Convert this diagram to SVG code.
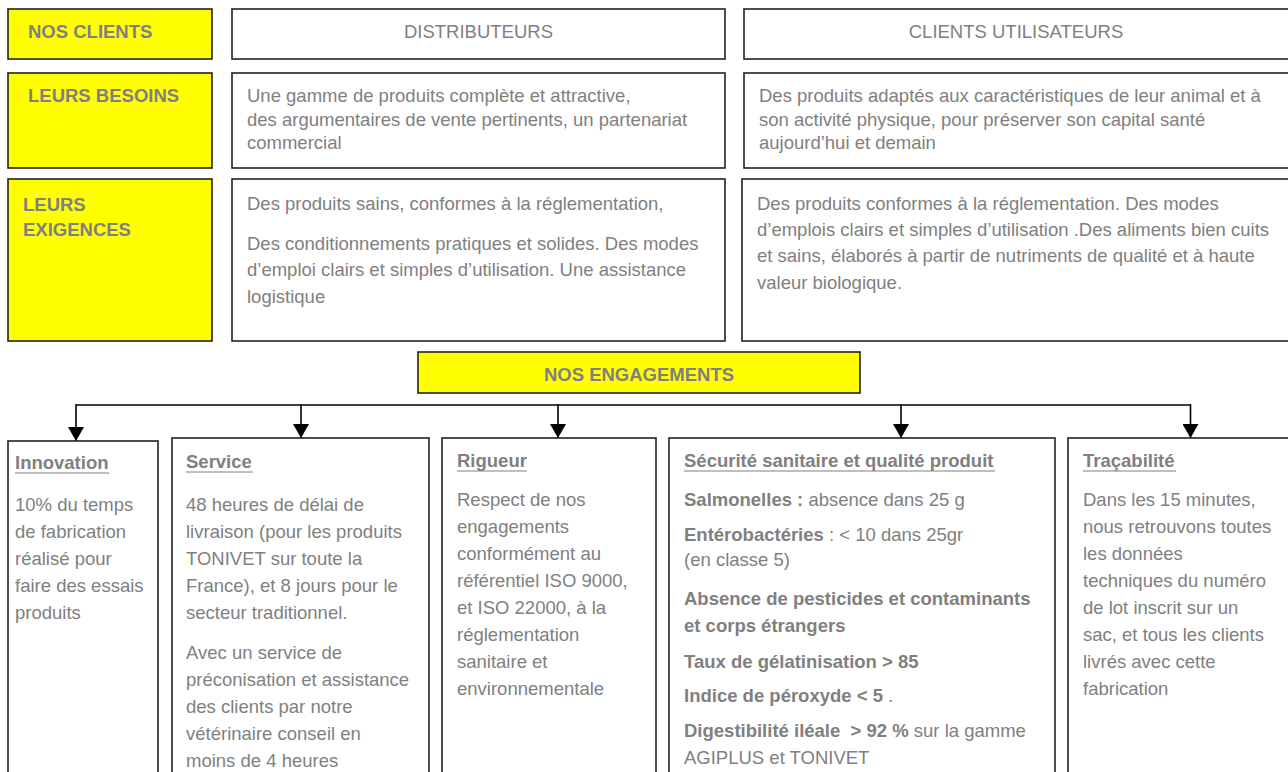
<svg xmlns="http://www.w3.org/2000/svg" width="1288" height="772" viewBox="0 0 1288 772">
<style>
.box{fill:#fff;stroke:#222;stroke-width:1.6}
.ybox{fill:#ffff00;stroke:#222;stroke-width:1.6}
text{font-family:"Liberation Sans",Arial,sans-serif;font-size:18.5px;fill:#808080}
.b{font-weight:bold}
.u{stroke:#808080;stroke-width:1.2}
.conn{stroke:#000;stroke-width:1.6;fill:none}
</style>
<defs>
<marker id="arr" markerUnits="userSpaceOnUse" markerWidth="16" markerHeight="14" viewBox="0 0 16 14" refX="8" refY="14" orient="0">
<path d="M0,0 L16,0 L8,14 Z" fill="#000"/>
</marker>
</defs>

<g id="nos-clients"><rect class="ybox" x="8" y="9" width="204" height="50"/><text class="b" x="28" y="37.5">NOS CLIENTS</text></g>
<g id="distributeurs"><rect class="box" x="232" y="9" width="493" height="50"/><text x="478.5" y="37.5" text-anchor="middle">DISTRIBUTEURS</text></g>
<g id="clients-utilisateurs"><rect class="box" x="744" y="9" width="548" height="50"/><text x="1016" y="37.5" text-anchor="middle">CLIENTS UTILISATEURS</text></g>

<g id="leurs-besoins"><rect class="ybox" x="8" y="73" width="204" height="95"/><text class="b" x="28" y="102">LEURS BESOINS</text></g>
<g id="besoins-distributeurs"><rect class="box" x="232" y="73" width="493" height="95"/>
<text x="247" y="101.5">Une gamme de produits complète et attractive,</text>
<text x="247" y="125.5">des argumentaires de vente pertinents, un partenariat</text>
<text x="247" y="149">commercial</text></g>
<g id="besoins-clients"><rect class="box" x="744" y="73" width="548" height="95"/>
<text x="759" y="101.5">Des produits adaptés aux caractéristiques de leur animal et à</text>
<text x="759" y="125.5">son activité physique, pour préserver son capital santé</text>
<text x="759" y="149">aujourd’hui et demain</text></g>

<g id="leurs-exigences"><rect class="ybox" x="8" y="179" width="204" height="162"/><text class="b" x="23" y="211">LEURS</text><text class="b" x="23" y="236">EXIGENCES</text></g>
<g id="exigences-distributeurs"><rect class="box" x="232" y="179" width="493" height="162"/>
<text x="247" y="210">Des produits sains, conformes à la réglementation,</text>
<text x="247" y="250">Des conditionnements pratiques et solides. Des modes</text>
<text x="247" y="276">d’emploi clairs et simples d’utilisation. Une assistance</text>
<text x="247" y="303">logistique</text></g>
<g id="exigences-clients"><rect class="box" x="742" y="179" width="550" height="162"/>
<text x="757" y="210">Des produits conformes à la réglementation. Des modes</text>
<text x="757" y="236">d’emplois clairs et simples d’utilisation .Des aliments bien cuits</text>
<text x="757" y="262">et sains, élaborés à partir de nutriments de qualité et à haute</text>
<text x="757" y="289">valeur biologique.</text></g>

<g id="nos-engagements"><rect class="ybox" x="418" y="352" width="442" height="41"/><text class="b" x="639" y="381" text-anchor="middle">NOS ENGAGEMENTS</text></g>

<g id="connectors">
<line class="conn" x1="76" y1="405" x2="1191" y2="405"/>
<line class="conn" x1="76" y1="404.2" x2="76" y2="441" marker-end="url(#arr)"/>
<line class="conn" x1="301" y1="404.2" x2="301" y2="438" marker-end="url(#arr)"/>
<line class="conn" x1="558" y1="404.2" x2="558" y2="438" marker-end="url(#arr)"/>
<line class="conn" x1="901" y1="404.2" x2="901" y2="438" marker-end="url(#arr)"/>
<line class="conn" x1="1190.5" y1="404.2" x2="1190.5" y2="438" marker-end="url(#arr)"/>
</g>

<g id="innovation"><rect class="box" x="8" y="441" width="150" height="340"/>
<text class="b" x="15" y="469">Innovation</text><line class="u" x1="15" y1="473" x2="109" y2="473"/>
<text x="15" y="511">10% du temps</text>
<text x="15" y="538">de fabrication</text>
<text x="15" y="565">réalisé pour</text>
<text x="15" y="592">faire des essais</text>
<text x="15" y="619">produits</text></g>

<g id="service"><rect class="box" x="172" y="438" width="257" height="340"/>
<text class="b" x="186" y="468">Service</text><line class="u" x1="186" y1="472" x2="253" y2="472"/>
<text x="186" y="511">48 heures de délai de</text>
<text x="186" y="538">livraison (pour les produits</text>
<text x="186" y="565">TONIVET sur toute la</text>
<text x="186" y="592">France), et 8 jours pour le</text>
<text x="186" y="619">secteur traditionnel.</text>
<text x="186" y="659">Avec un service de</text>
<text x="186" y="686">préconisation et assistance</text>
<text x="186" y="713">des clients par notre</text>
<text x="186" y="740">vétérinaire conseil en</text>
<text x="186" y="767">moins de 4 heures</text></g>

<g id="rigueur"><rect class="box" x="442" y="438" width="214" height="340"/>
<text class="b" x="457" y="467">Rigueur</text><line class="u" x1="457" y1="471" x2="527" y2="471"/>
<text x="457" y="506">Respect de nos</text>
<text x="457" y="533">engagements</text>
<text x="457" y="560">conformément au</text>
<text x="457" y="587">référentiel ISO 9000,</text>
<text x="457" y="614">et ISO 22000, à la</text>
<text x="457" y="641">réglementation</text>
<text x="457" y="668">sanitaire et</text>
<text x="457" y="695">environnementale</text></g>

<g id="securite"><rect class="box" x="669" y="438" width="386" height="340"/>
<text class="b" x="684" y="467">Sécurité sanitaire et qualité produit</text><line class="u" x1="684" y1="471" x2="995" y2="471"/>
<text x="684" y="506"><tspan class="b">Salmonelles :</tspan> absence dans 25 g</text>
<text x="684" y="541"><tspan class="b">Entérobactéries</tspan> : &lt; 10 dans 25gr</text>
<text x="684" y="566">(en classe 5)</text>
<text class="b" x="684" y="605">Absence de pesticides et contaminants</text>
<text class="b" x="684" y="632">et corps étrangers</text>
<text class="b" x="684" y="668">Taux de gélatinisation &gt; 85</text>
<text x="684" y="702"><tspan class="b">Indice de péroxyde &lt; 5</tspan> .</text>
<text x="684" y="737"><tspan class="b">Digestibilité iléale&#160; &gt; 92 %</tspan> sur la gamme</text>
<text x="684" y="764">AGIPLUS et TONIVET</text></g>

<g id="tracabilite"><rect class="box" x="1068" y="438" width="230" height="340"/>
<text class="b" x="1083" y="467">Traçabilité</text><line class="u" x1="1083" y1="471" x2="1176" y2="471"/>
<text x="1083" y="506">Dans les 15 minutes,</text>
<text x="1083" y="533">nous retrouvons toutes</text>
<text x="1083" y="560">les données</text>
<text x="1083" y="587">techniques du numéro</text>
<text x="1083" y="614">de lot inscrit sur un</text>
<text x="1083" y="641">sac, et tous les clients</text>
<text x="1083" y="668">livrés avec cette</text>
<text x="1083" y="695">fabrication</text></g>
</svg>
